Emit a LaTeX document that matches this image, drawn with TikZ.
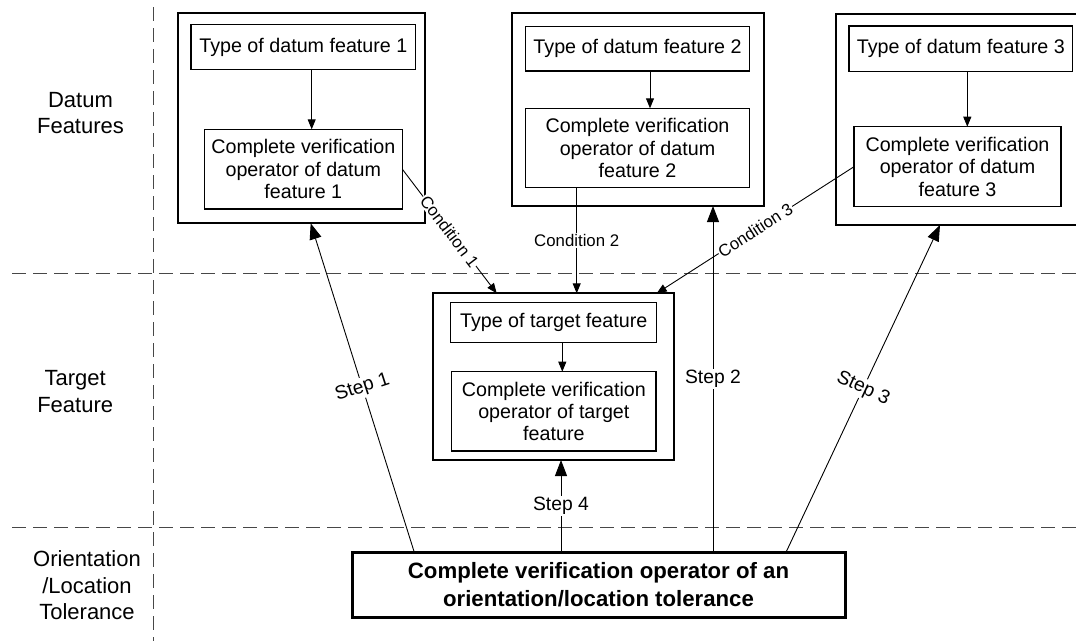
\documentclass[tikz,border=0pt]{standalone}
\usepackage{fontspec}
\setmainfont{Liberation Sans}
\usetikzlibrary{arrows.meta,calc}
\newcommand\mainfs{\fontsize{19.7}{22.4}\selectfont}
\newcommand\labfs{\fontsize{19.3}{22}\selectfont}
\newcommand\condfs{\fontsize{16.8}{19}\selectfont}
\newcommand\sidefs{\fontsize{22}{26.7}\selectfont}
\newcommand\boldfs{\fontsize{22.2}{27.3}\selectfont\bfseries}
\begin{document}
\begin{tikzpicture}[x=1pt,y=-1pt,
  box/.style={draw, rectangle, inner sep=0pt, outer sep=0pt, anchor=north west, align=center, font=\mainfs},
  frame/.style={box, line width=2.3pt},
  inbox/.style={box, line width=1.1pt},
  bigbox/.style={box, line width=3pt, font=\boldfs},
  sep/.style={line width=1.4pt, black!72, dash pattern=on 14pt off 7pt},
  conn/.style={line width=0.9pt},
  sarr/.style={conn, -{Triangle[length=10pt,width=8pt]}},
  barr/.style={conn, -{Triangle[length=16pt,width=12pt]}},
  lab/.style={midway, fill=white, inner sep=1.5pt, font=\labfs},
  clab/.style={midway, fill=white, inner sep=1pt, font=\condfs},
  side/.style={align=center, font=\sidefs}]
\useasboundingbox (0,0) rectangle (1076,641);
\clip (0,0) rectangle (1076,641);

% separators
\coordinate (vt) at (153.3,7);
\coordinate (vb) at (153.3,641);
\coordinate (h1l) at (12,273.3);
\coordinate (h1r) at (1076,273.3);
\coordinate (h2l) at (12,527.7);
\coordinate (h2r) at (1076,527.7);
\draw[sep] (vt) -- (vb);
\draw[sep] (h1l) -- (h1r);
\draw[sep] (h2l) -- (h2r);

% side labels
\node[side] (sd) at (80.5,113) {Datum\\Features};
\node[side] (st) at (75.2,391.7) {Target\\Feature};
\node[side] (so) at (87,585.3) {Orientation\\/Location\\Tolerance};

% datum feature 1
\node[frame, minimum width=247.6pt, minimum height=210.6pt] (d1) at (177.7,12.7) {};
\node[inbox, minimum width=224.7pt, minimum height=45.4pt] (d1t) at (191,24.3) {Type of datum feature 1};
\node[inbox, minimum width=198pt, minimum height=79.7pt] (d1c) at (204.3,129.3) {Complete verification\\operator of datum\\feature 1};

% datum feature 2
\node[frame, minimum width=251.7pt, minimum height=192.7pt] (d2) at (512.3,13.3) {};
\node[inbox, minimum width=223.6pt, minimum height=44.3pt] (d2t) at (525.7,26.7) {Type of datum feature 2};
\node[inbox, minimum width=223.6pt, minimum height=79.4pt] (d2c) at (525.7,108.3) {Complete verification\\operator of datum\\feature 2};

% datum feature 3
\node[frame, minimum width=250pt, minimum height=211pt] (d3) at (835.7,14) {};
\node[inbox, minimum width=223.7pt, minimum height=45.3pt] (d3t) at (849,26) {Type of datum feature 3};
\node[inbox, minimum width=207pt, minimum height=80pt] (d3c) at (854,126.7) {Complete verification\\operator of datum\\feature 3};

% target feature
\node[frame, minimum width=240.7pt, minimum height=166.7pt] (tg) at (433.3,293.3) {};
\node[inbox, minimum width=206pt, minimum height=39.6pt] (tgt) at (450.7,302.7) {Type of target feature};
\node[inbox, minimum width=204.3pt, minimum height=79.3pt] (tgc) at (451.7,371.7) {Complete verification\\operator of target\\feature};

% tolerance
\node[bigbox, minimum width=493pt, minimum height=65pt] (bold) at (352,552.3) {Complete verification operator of an\\orientation/location tolerance};

% inner arrows
\draw[sarr] (d1t.south -| 311.7,0) -- (d1c.north -| 311.7,0);
\draw[sarr] (d2t.south -| 650,0) -- (d2c.north -| 650,0);
\draw[sarr] (d3t.south -| 967.3,0) -- (d3c.north -| 967.3,0);
\draw[sarr] (tgt.south -| 562.3,0) -- (tgc.north -| 562.3,0);

% conditions
\draw[sarr] (d1c.east) -- node[clab, sloped] {Condition 1} (tg.north -| 496.7,0);
\draw[sarr] (d2c.south -| 576.7,0) -- node[clab] {Condition 2} (tg.north -| 576.7,0);
\draw[sarr] (d3c.west) -- node[clab, sloped] {Condition 3} (tg.north -| 656.7,0);

% steps
\draw[barr] (bold.north -| 414.3,0) -- node[lab, rotate=18] {Step 1} (d1.south -| 310.7,0);
\draw[barr] (bold.north -| 713,0) -- node[lab] {Step 2} (d2.south -| 713,0);
\draw[barr] (bold.north -| 786,0) -- node[lab, rotate=-25] {Step 3} (d3.south -| 940,0);
\draw[barr] (bold.north -| 561,0) -- node[lab] {Step 4} (tg.south -| 561,0);
\end{tikzpicture}
\end{document}
